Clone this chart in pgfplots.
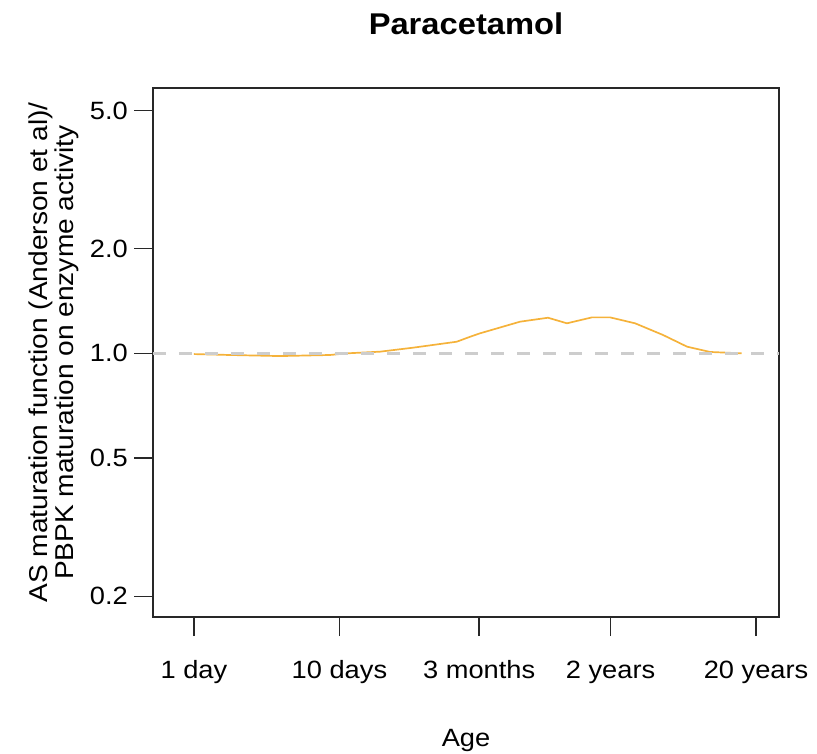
\documentclass[border=0pt]{standalone}
\usepackage{fontspec}
\setmainfont{Liberation Sans}[FakeStretch=1.09]
\usepackage{pgfplots}
\pgfplotsset{compat=1.18}
\definecolor{lineorange}{RGB}{245,178,58}
\definecolor{dashgray}{RGB}{205,205,205}
\definecolor{framegray}{RGB}{40,40,40}
\begin{document}
\begin{tikzpicture}[x=1pt,y=1pt]
\useasboundingbox (0,0) rectangle (817,-753);
\begin{axis}[
  at={(153pt,-617pt)}, anchor=south west,
  scale only axis, width=626pt, height=529pt,
  xmode=log, ymode=log,
  xmin=0.523, xmax=10490,
  ymin=0.1743, ymax=5.80,
  axis line style={framegray, line width=1.4pt},
  xtick={1,10,91.25,730,7300},
  xticklabels={1 day,10 days,3 months,2 years,20 years},
  ytick={0.2,0.5,1,2,5},
  yticklabels={0.2,0.5,1.0,2.0,5.0},
  minor tick num=0,
  xminorticks=false, yminorticks=false,
  tick align=outside,
  xtick pos=bottom, ytick pos=left,
  major tick length=19pt,
  every major tick/.append style={framegray, line width=1.4pt},
  ticklabel style={font=\fontsize{25}{26}\selectfont, inner sep=0pt, text=black},
  xticklabel style={anchor=base, yshift=-42pt},
  yticklabel style={anchor=east, xshift=-6pt},
  title={Paracetamol},
  title style={font=\bfseries\fontsize{30}{32}\selectfont, at={(axis description cs:0.5,1)}, anchor=base, yshift=48pt, inner sep=0pt},
  xlabel={Age},
  xlabel style={font=\fontsize{25}{26}\selectfont, at={(axis description cs:0.5,0)}, anchor=base, yshift=-129pt, inner sep=0pt},
  ylabel={AS maturation function (Anderson et al)/\\PBPK maturation on enzyme activity},
  ylabel style={font=\fontsize{25.8}{26}\selectfont, align=center, at={(axis description cs:-0.1585,0.5)}, anchor=center, inner sep=0pt},
  clip=true,
]
\addplot[lineorange, line width=1.7pt] coordinates {
(1,0.995) (1.77,0.989) (3.9,0.982) (8.6,0.989) (11.3,1.0) (19,1.011)
(32,1.038) (64,1.080) (79,1.116) (92,1.141) (174,1.233) (271,1.266)
(366,1.220) (544,1.269) (724,1.269) (1076,1.220) (1676,1.129)
(2450,1.045) (3530,1.009) (5800,1.0)
};
\addplot[dashgray, line width=2.6pt, dash pattern=on 13pt off 13pt] coordinates {(0.523,1) (10490,1)};
\end{axis}
\end{tikzpicture}
\end{document}
